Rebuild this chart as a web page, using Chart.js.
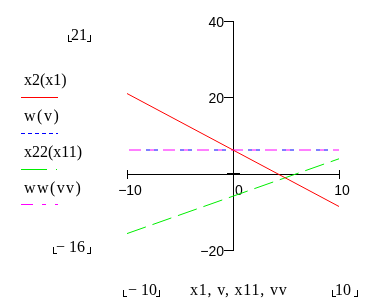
<!DOCTYPE html>
<html>
<head>
<meta charset="utf-8">
<script src="https://cdn.jsdelivr.net/npm/chart.js@4/dist/chart.umd.min.js"></script>
<style>
  html, body { margin: 0; padding: 0; background: #fff; }
  #c { display: block; }
</style>
</head>
<body>
<canvas id="c" width="373" height="304"></canvas>
<script>
// values
var xValues = [-10, 10];
var x2Values = [21, -8.6];      // x2(x1)
var wValues = [6.2, 6.2];       // w(v)
var x22Values = [-15.7, 3.9];   // x22(x11)
var wwValues = [6.2, 6.2];      // ww(vv)

var seriesNames = ["x2(x1)", "w(v)", "x22(x11)", "ww(vv)"];
var xTickValues = [-10, 0, 10];
var yTickValues = [40, 20, -20];
var yLimitLabels = ["21", "\u2212 16"];
var xLimitLabels = ["\u2212 10", "10"];
var xTitle = "x1, v, x11, vv";

var colors = ["#ff0000", "#0000ff", "#00ee00", "#ff00ff"];
var lineDashes = [[], [4, 4, 4, 22], [20, 7], [12, 9, 4, 9]];
var dashOffsets = [0, 15, 0, 32];
var legendDashes = [[], [4, 3], [26, 9, 1, 9], [12, 9, 4, 9]];
var legendSpacing = ["0px", "1.5px", "0px", "1.4px"];

function pts(ys) {
  return xValues.map(function(x, i) { return {x: x, y: ys[i]}; });
}

var serif = "16px 'Liberation Serif', 'Times New Roman', serif";
var sans = "14px 'Liberation Sans', Arial, sans-serif";

function corner(ctx, x, y, left) {
  // little mathcad placeholder bracket
  if (left) {
    ctx.fillRect(x, y - 6, 1, 7);
    ctx.fillRect(x, y, 4, 1);
  } else {
    ctx.fillRect(x, y - 6, 1, 7);
    ctx.fillRect(x - 3, y, 4, 1);
  }
}

function dashedRow(ctx, x1, x2, y, pattern) {
  if (!pattern.length) { ctx.fillRect(x1, y, x2 - x1, 1); return; }
  var x = x1, k = 0, on = true;
  while (x < x2) {
    var len = pattern[k % pattern.length];
    if (on) ctx.fillRect(x, y, Math.min(len, x2 - x), 1);
    x += len; k++; on = !on;
  }
}

var axesPlugin = {
  id: "mathcadAxes",
  beforeDatasetsDraw: function(chart) {
    var ctx = chart.ctx, xs = chart.scales.x, ys = chart.scales.y;
    var x0 = Math.round(xs.getPixelForValue(0));
    var y0 = Math.round(ys.getPixelForValue(0));
    var xl = Math.round(xs.getPixelForValue(-10)), xr = Math.round(xs.getPixelForValue(10));
    var yt = Math.round(ys.getPixelForValue(40)), yb = Math.round(ys.getPixelForValue(-20));
    ctx.save();
    ctx.fillStyle = "#000";
    ctx.fillRect(xl, y0, xr - xl + 1, 1);
    ctx.fillRect(x0, yt, 1, yb - yt + 1);
    xTickValues.forEach(function(v) {
      if (v === 0) return;
      var px = Math.round(xs.getPixelForValue(v));
      ctx.fillRect(px, y0 - 4, 1, 9);
    });
    yTickValues.forEach(function(v) {
      var py = Math.round(ys.getPixelForValue(v));
      ctx.fillRect(x0 - 9, py, 9, 1);
    });
    ctx.fillRect(x0 - 6, y0 - 1, 13, 2);

    ctx.font = sans;
    ctx.textBaseline = "top";
    ctx.textAlign = "right";
    yTickValues.forEach(function(v) {
      var py = ys.getPixelForValue(v);
      ctx.fillText(v < 0 ? "\u2212" + Math.abs(v) : String(v), x0 - 9, py - 5);
    });
    xTickValues.forEach(function(v) {
      var px = xs.getPixelForValue(v);
      if (v === 0) { ctx.textAlign = "left"; ctx.fillText("0", px + 2, y0 + 10); return; }
      ctx.textAlign = "center";
      ctx.fillText(v < 0 ? "\u2212" + Math.abs(v) : String(v), px + 3, y0 + 10);
    });
    ctx.restore();
  },
  afterDraw: function(chart) {
    var ctx = chart.ctx;
    ctx.save();
    ctx.fillStyle = "#000";
    ctx.font = serif;
    ctx.textBaseline = "alphabetic";
    ctx.textAlign = "left";

    // y limits
    ctx.fillText(yLimitLabels[0], 71, 40);
    corner(ctx, 68, 41, true); corner(ctx, 90, 41, false);
    ctx.fillText(yLimitLabels[1], 56, 252);
    corner(ctx, 53, 253, true); corner(ctx, 90, 253, false);

    // x limits and title
    ctx.fillText(xLimitLabels[0], 128, 295);
    corner(ctx, 123, 296, true); corner(ctx, 159, 296, false);
    ctx.fillText(xLimitLabels[1], 335, 295);
    corner(ctx, 332, 296, true); corner(ctx, 357, 296, false);
    ctx.letterSpacing = "0.8px";
    ctx.fillText(xTitle, 190, 295);

    // legend
    var ty = [85, 121, 157, 193];
    var ly = [97, 133, 169, 204];
    seriesNames.forEach(function(name, i) {
      ctx.fillStyle = "#000";
      ctx.letterSpacing = legendSpacing[i];
      ctx.fillText(name, 24, ty[i]);
      ctx.fillStyle = colors[i];
      dashedRow(ctx, 21, 58, ly[i], legendDashes[i]);
    });
    ctx.restore();
  }
};

var datasets = [x2Values, wValues, x22Values, wwValues].map(function(ys, i) {
  return {
    label: seriesNames[i],
    data: pts(ys),
    showLine: true,
    borderColor: colors[i],
    borderWidth: 1,
    borderDash: lineDashes[i],
    borderDashOffset: dashOffsets[i],
    pointRadius: 0,
    fill: false
  };
});

new Chart(document.getElementById("c"), {
  type: "scatter",
  data: {datasets: datasets},
  options: {
    responsive: false,
    animation: false,
    layout: {padding: {left: 127, right: 34, top: 21, bottom: 54}},
    plugins: {legend: {display: false}, tooltip: {enabled: false}},
    scales: {
      x: {type: "linear", min: -10, max: 10, display: false},
      y: {type: "linear", min: -20, max: 40, display: false}
    }
  },
  plugins: [axesPlugin]
});
</script>
</body>
</html>
